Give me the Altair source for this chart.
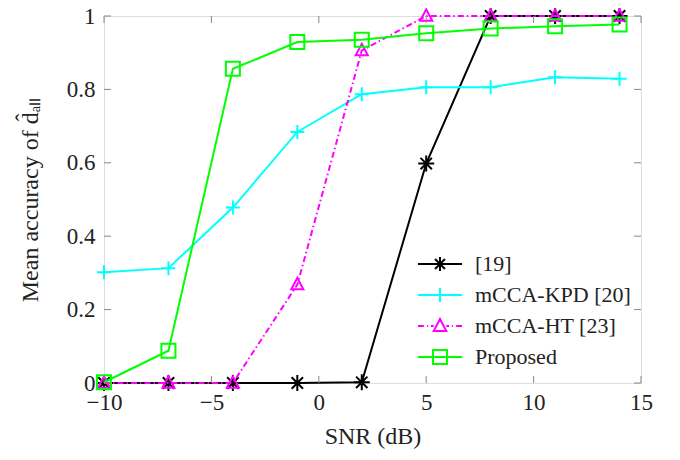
import altair as alt
import pandas as pd

snr = [-10, -7, -4, -1, 2, 5, 8, 11, 14]
ref19 = [0, 0, 0, 0, 0.002, 0.598, 1, 1, 1]
kpd = [0.302, 0.313, 0.478, 0.684, 0.787, 0.806, 0.806, 0.833, 0.829]
ht = [0, 0, 0, 0.268, 0.906, 1, 1, 1, 1]
proposed = [0.002, 0.088, 0.856, 0.929, 0.935, 0.953, 0.966, 0.972, 0.977]

names = ["[19]", "mCCA-KPD [20]", "mCCA-HT [23]", "Proposed"]
colors = ["#000000", "#00FFFF", "#FF00FF", "#00FF00"]

x_ticks = [-10, -5, 0, 5, 10, 15]
y_ticks = [0, 0.2, 0.4, 0.6, 0.8, 1]

rows = []
for name, vals in zip(names, [ref19, kpd, ht, proposed]):
    for s, v in zip(snr, vals):
        rows.append({"series": name, "snr": s, "acc": v})
df = pd.DataFrame(rows)

FONT = "Liberation Serif, 'Times New Roman', serif"
W, H = 537, 367

xscale = alt.Scale(domain=[-10, 15], nice=False, zero=False)
yscale = alt.Scale(domain=[0, 1], nice=False)
xaxis = alt.Axis(title="SNR (dB)", values=x_ticks, ticks=False, domain=False, grid=False,
                 labelFlush=False,
                 labelFont=FONT, labelFontSize=23, labelColor="#222", labelPadding=8,
                 titleFont=FONT, titleFontSize=24, titleFontWeight="normal", titleColor="#222",
                 titlePadding=10)
yaxis = alt.Axis(title="Mean accuracy of d̂ₐₗₗ", values=y_ticks, ticks=False, domain=False, grid=False,
                 labelFlush=False,
                 labelFont=FONT, labelFontSize=23, labelColor="#222", labelPadding=9,
                 labelExpr="datum.value == 0 ? '0' : datum.value == 1 ? '1' : format(datum.value, '.1f')",
                 titleFont=FONT, titleFontSize=24, titleFontWeight="normal", titleColor="#222",
                 titlePadding=24)

X = alt.X("snr:Q", scale=xscale, axis=xaxis)
Y = alt.Y("acc:Q", scale=yscale, axis=yaxis)

ast = "M-1,0L1,0M0,-1L0,1M-0.71,-0.71L0.71,0.71M-0.71,0.71L0.71,-0.71"
plus = "M-1,0L1,0M0,-1L0,1"
tri = "M0,-1L0.9,0.7L-0.9,0.7Z"
sq = "M-1,-1L1,-1L1,1L-1,1Z"

styles = [
    ("[19]", "#000000", None, ast, 256),
    ("mCCA-KPD [20]", "#00FFFF", None, plus, 196),
    ("mCCA-HT [23]", "#FF00FF", [6, 3, 1.5, 3], tri, 180),
    ("Proposed", "#00FF00", None, sq, 196),
]

layers = []
for name, color, dash, shape, size in styles:
    d = alt.Chart(df).transform_filter(alt.datum.series == name)
    if dash:
        line = d.mark_line(color=color, strokeWidth=2, strokeDash=dash)
    else:
        line = d.mark_line(color=color, strokeWidth=2)
    layers.append(line.encode(x=X, y=Y))
    layers.append(d.mark_point(shape=shape, color=color, size=size, filled=False,
                               strokeWidth=2, opacity=1).encode(x=X, y=Y))

# inward ticks
xt = pd.DataFrame({"snr": x_ticks})
yt = pd.DataFrame({"acc": y_ticks})
tick_color = "#888"
layers.append(alt.Chart(xt).mark_rule(color=tick_color, strokeWidth=1).encode(
    x=X, y=alt.value(H), y2=alt.value(H - 7)))
layers.append(alt.Chart(xt).mark_rule(color=tick_color, strokeWidth=1).encode(
    x=X, y=alt.value(0), y2=alt.value(7)))
layers.append(alt.Chart(yt).mark_rule(color=tick_color, strokeWidth=1).encode(
    y=Y, x=alt.value(0), x2=alt.value(7)))
layers.append(alt.Chart(yt).mark_rule(color=tick_color, strokeWidth=1).encode(
    y=Y, x=alt.value(W), x2=alt.value(W - 7)))

# legend layer
L = "M-3.15,0L3.15,0"
leg_paths = [
    L + ast,
    L + plus,
    "M-3.15,0L-2.3,0M-1.85,0L-1.7,0M-1.3,0L-0.9,0M0.9,0L1.3,0M1.7,0L1.85,0M2.3,0L3.15,0" + tri,
    L + sq,
]
legend = alt.Legend(title=None, orient="none", legendX=325, legendY=237, padding=0,
                    symbolSize=196, symbolStrokeWidth=2, labelFont=FONT, labelFontSize=22,
                    labelColor="#222", labelOffset=24, rowPadding=9)
leg_layer = alt.Chart(df).transform_filter("false").mark_point(
    filled=False, opacity=1, strokeWidth=2).encode(
    x=X, y=Y,
    color=alt.Color("series:N", scale=alt.Scale(domain=names, range=colors), legend=legend),
    shape=alt.Shape("series:N", scale=alt.Scale(domain=names, range=leg_paths), legend=legend),
)
layers.append(leg_layer)

chart = alt.layer(*layers).properties(
    width=W, height=H,
    autosize=alt.AutoSizeParams(type="none"),
    padding={"left": 96, "top": 8, "right": 31, "bottom": 69},
).configure_view(stroke="#222", strokeWidth=1.3).configure(background="white")

chart.save("out.html", embed_options={"renderer": "svg", "actions": False})
